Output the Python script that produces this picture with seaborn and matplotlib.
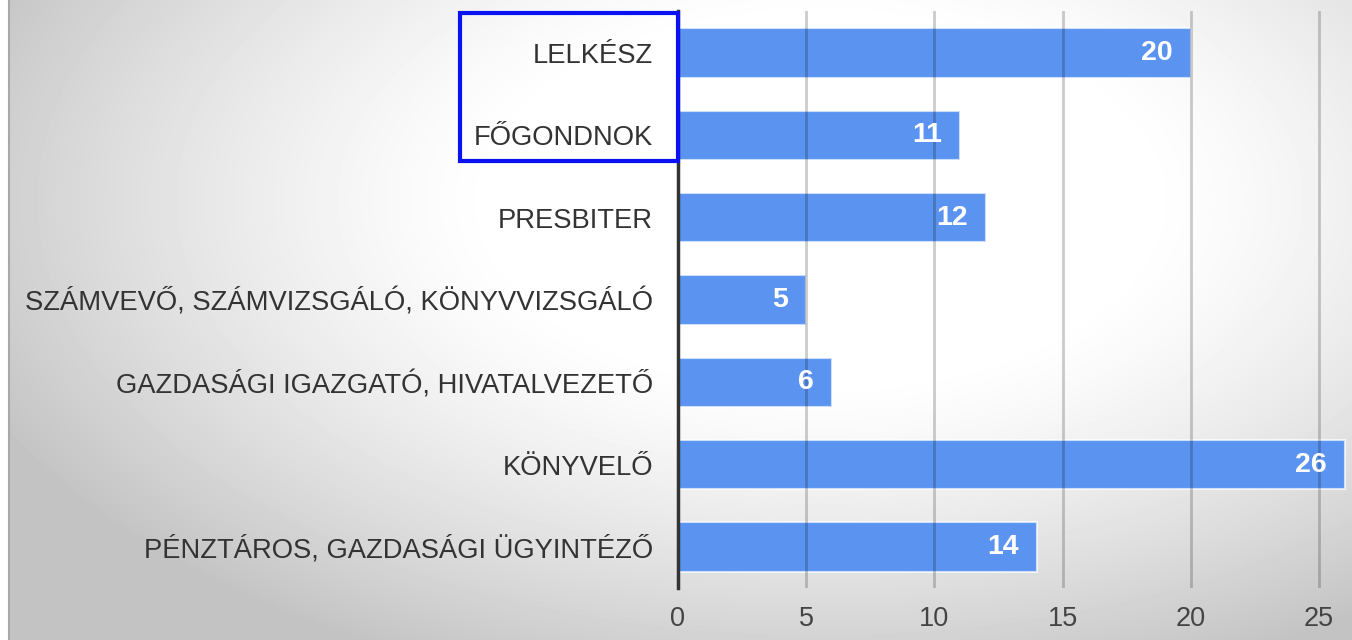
import numpy as np
import pandas as pd
import seaborn as sns
import matplotlib.pyplot as plt
from matplotlib.patches import Rectangle
from matplotlib.lines import Line2D

roles = ["LELKÉSZ", "FŐGONDNOK", "PRESBITER",
         "SZÁMVEVŐ, SZÁMVIZSGÁLÓ, KÖNYVVIZSGÁLÓ",
         "GAZDASÁGI IGAZGATÓ, HIVATALVEZETŐ",
         "KÖNYVELŐ", "PÉNZTÁROS, GAZDASÁGI ÜGYINTÉZŐ"]
counts = [20, 11, 12, 5, 6, 26, 14]
x_ticks = [0, 5, 10, 15, 20, 25]

df = pd.DataFrame({"role": roles, "count": counts})

sns.set_theme(style="white")
plt.rcParams['font.family'] = ['Liberation Sans', 'DejaVu Sans']

W, H = 1352, 640
fig = plt.figure(figsize=(W / 100, H / 100), dpi=100)

# vignette background
yy, xx = np.mgrid[0:H, 0:W]
d = np.sqrt((xx - 820.0) ** 2 + ((yy - 200.0) * 1.8) ** 2)
t = np.clip((d - 320) / 600, 0, 1) ** 1.3
bg = (255 - 60 * t) / 255.0
bg[:, :8] = 1.0
bg_ax = fig.add_axes([0, 0, 1, 1], zorder=-1)
bg_ax.imshow(bg, cmap="gray", vmin=0, vmax=1, aspect="auto", interpolation="bilinear")
bg_ax.axis("off")
fig.add_artist(Line2D([8.5 / W, 8.5 / W], [0, 1], color="#a8a8a8", lw=1.5,
                      transform=fig.transFigure))

ax = fig.add_axes([678 / W, 1 - 588 / H, (W - 678) / W, (588 - 11) / H])
ax.set_facecolor("none")

sns.barplot(data=df, x="count", y="role", orient="h", color="#5b94f0",
            saturation=1, width=0.6, edgecolor=(1, 1, 1, 0.7), linewidth=1.5, ax=ax)

ax.set_xlim(0, (W - 678) / 25.64)
ax.set_ylim(6.5, -0.51)
ax.set_xticks(x_ticks)
ax.set_xlabel("")
ax.set_ylabel("")
for x in x_ticks[1:]:
    ax.axvline(x, color="black", alpha=0.2, lw=2, zorder=3)

for s in ["top", "right", "bottom"]:
    ax.spines[s].set_visible(False)
ax.spines["left"].set_color("#333333")
ax.spines["left"].set_linewidth(2.5)
ax.spines["left"].set_zorder(4)

ax.tick_params(axis="x", length=0, pad=13, labelsize=19.5, labelcolor="#444444")
ax.tick_params(axis="y", length=0, pad=18, labelsize=19.7, labelcolor="#333333")

for i, v in enumerate(counts):
    ax.annotate(str(v), xy=(v, i), xytext=(-13, 0), textcoords="offset points",
                ha="right", va="center", color="white", fontsize=20.5,
                fontweight="bold", zorder=5)

# highlight box around the first two labels
fig.add_artist(Rectangle((460 / W, 1 - 161 / H), 218 / W, 148 / H,
                         transform=fig.transFigure, fill=False,
                         edgecolor="#0a12f2", lw=3))

fig.savefig("out.png", dpi=100)
